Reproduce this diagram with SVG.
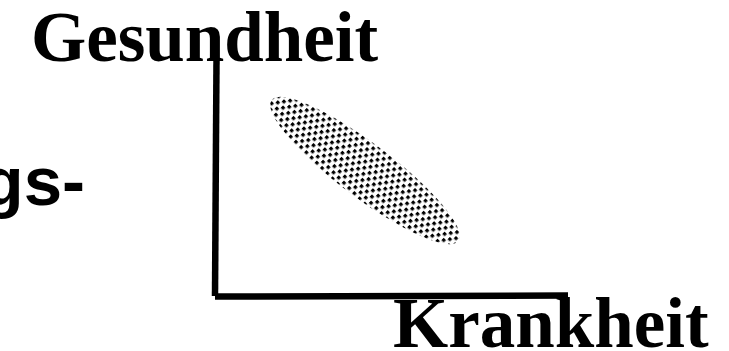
<svg xmlns="http://www.w3.org/2000/svg" width="729" height="351" viewBox="0 0 729 351">
  <defs>
    <style>
      .serif { font-family: "Liberation Serif", "Times New Roman", serif; font-weight: bold; font-size: 71px; fill: #000; }
      .sans { font-family: "Liberation Sans", Arial, sans-serif; font-weight: bold; font-size: 69px; fill: #000; }
      .axis { stroke: #000; stroke-width: 6.5; fill: none; }
    </style>
    <pattern id="dots" width="7.4" height="10" patternUnits="userSpaceOnUse" patternTransform="rotate(8)">
      <rect x="0" y="0" width="3.3" height="3.3" fill="#000"/>
      <rect x="3.7" y="5" width="3.3" height="3.3" fill="#000"/>
    </pattern>
  </defs>
  <rect width="729" height="351" fill="#fff"/>
  <g id="label-gesundheit">
    <text class="serif" x="31" y="61">Gesundheit</text>
  </g>
  <g id="label-left">
    <text class="sans" x="85" y="205" text-anchor="end">gs-</text>
  </g>
  <g id="axes">
    <line class="axis" x1="216.5" y1="60" x2="215" y2="296"/>
    <line class="axis" x1="215" y1="296.5" x2="568" y2="295.5"/>
  </g>
  <g id="cloud">
    <ellipse cx="365" cy="170.5" rx="117" ry="27" transform="rotate(37 365 170.5)" fill="url(#dots)"/>
  </g>
  <g id="label-krankheit">
    <text class="serif" x="393" y="347">Krankheit</text>
  </g>
</svg>
